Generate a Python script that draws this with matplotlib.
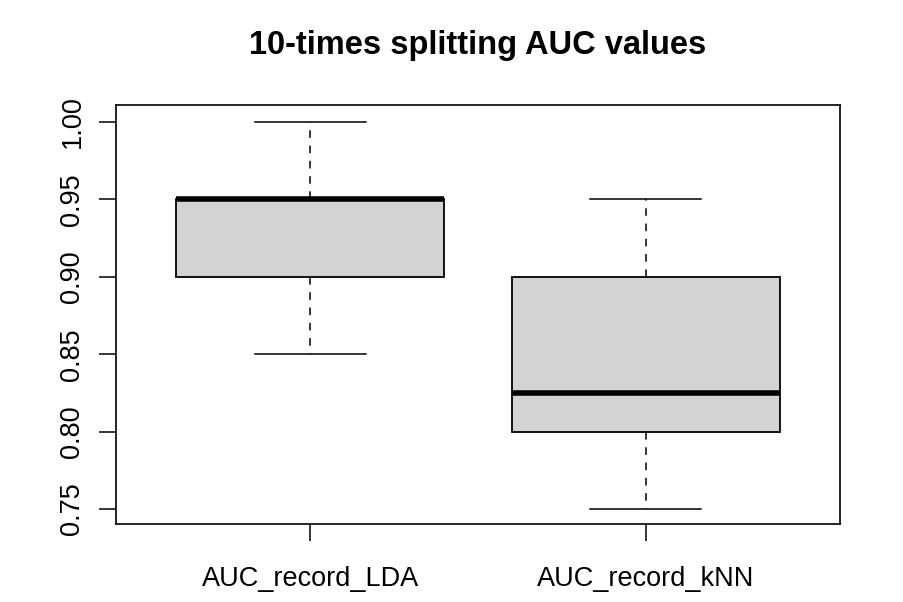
import matplotlib
matplotlib.use('Agg')
import matplotlib.pyplot as plt

# box statistics (min, Q1, median, Q3, max)
labels = ['AUC_record_LDA', 'AUC_record_kNN']
mins = [0.85, 0.75]
q1s = [0.90, 0.80]
medians = [0.95, 0.825]
q3s = [0.95, 0.90]
maxs = [1.00, 0.95]
yticks = [0.75, 0.80, 0.85, 0.90, 0.95, 1.00]

plt.rcParams['font.family'] = ['Liberation Sans', 'DejaVu Sans']

stats = []
for lab, lo, a, m, b, hi in zip(labels, mins, q1s, medians, q3s, maxs):
    stats.append({'label': lab, 'whislo': lo, 'q1': a, 'med': m,
                  'q3': b, 'whishi': hi, 'fliers': []})

fig = plt.figure(figsize=(9.04, 6.02), dpi=100)
ax = fig.add_axes([116 / 904, 1 - 524 / 602, 724 / 904, 419 / 602])

ax.bxp(stats, positions=[1, 2], widths=0.8, capwidths=0.33,
       patch_artist=True,
       boxprops=dict(facecolor='#d3d3d3', edgecolor='black', linewidth=1.3),
       medianprops=dict(color='black', linewidth=4, solid_capstyle='butt'),
       whiskerprops=dict(color='black', linewidth=1.1, linestyle=(0, (5, 5))),
       capprops=dict(color='black', linewidth=1.1))

ax.set_xlim(0.42, 2.58)
ax.set_ylim(0.7403, 1.011)
ax.set_yticks(yticks)
ax.set_yticklabels([f'{v:.2f}' for v in yticks], rotation=90, va='center')
ax.tick_params(axis='both', labelsize=19.5, length=12, width=1.1, pad=10)
ax.tick_params(axis='x', pad=18)
for s in ax.spines.values():
    s.set_linewidth(1.2)

# R centres the main title over the plot region
ax.set_title('10-times splitting AUC values', fontsize=23.5,
             fontweight='bold', pad=37)

fig.savefig('out.png', dpi=100)
